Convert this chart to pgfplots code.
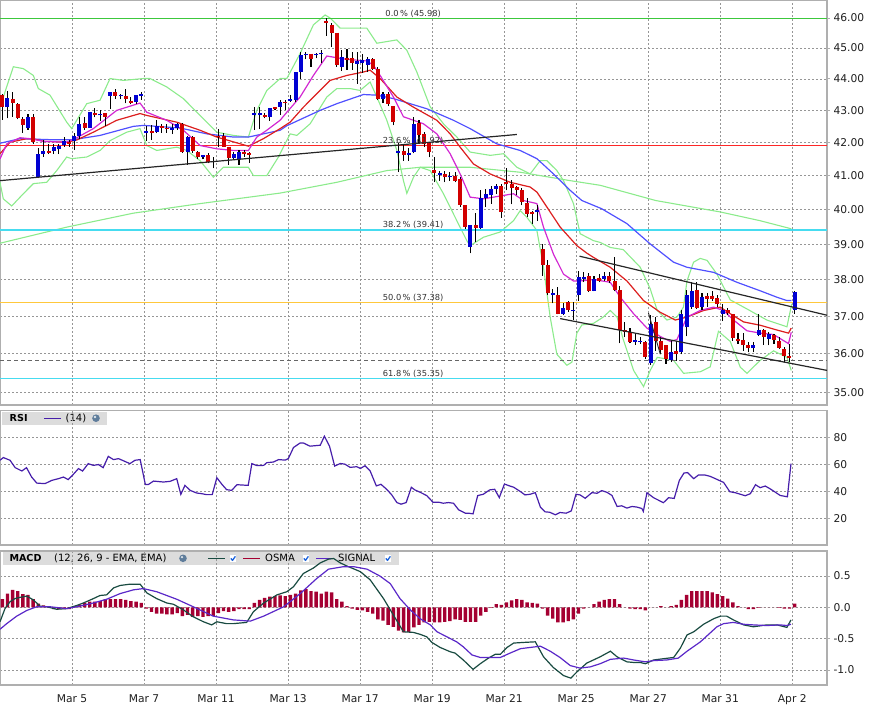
\documentclass[border=0pt]{standalone}
\usepackage{fontspec}
\setmainfont{DejaVu Sans}
\usepackage{pgfplots}
\usepackage{pgfplotstable}
\pgfplotsset{compat=1.18}

\definecolor{framegray}{RGB}{175,175,175}
\definecolor{gridgray}{RGB}{150,150,150}
\definecolor{labelgray}{RGB}{30,30,30}
\definecolor{fibtext}{RGB}{50,50,50}
\definecolor{bandgreen}{RGB}{140,235,140}
\definecolor{mablue}{RGB}{80,80,255}
\definecolor{mared}{RGB}{220,30,30}
\definecolor{mamag}{RGB}{210,40,210}
\definecolor{fibgreen}{RGB}{60,200,60}
\definecolor{fibred}{RGB}{255,40,40}
\definecolor{fibcyan}{RGB}{70,220,240}
\definecolor{fiborange}{RGB}{255,200,60}
\definecolor{cblue}{RGB}{0,0,210}
\definecolor{cred}{RGB}{210,0,0}
\definecolor{rsicol}{RGB}{70,30,170}
\definecolor{macdcol}{RGB}{25,75,65}
\definecolor{sigcol}{RGB}{90,40,200}
\definecolor{osmacol}{RGB}{165,0,50}
\definecolor{legendgray}{RGB}{220,220,220}
\definecolor{checkblue}{RGB}{30,100,220}
\definecolor{globecol}{RGB}{95,125,155}

% candle data: index, open, high, low, close
\pgfplotstableread{
i O H L C
0 43.49 43.52 42.71 43.10
1 43.10 43.62 42.75 43.38
2 43.36 43.59 42.80 43.22
3 43.20 43.22 42.72 42.75
4 42.72 42.80 42.31 42.54
5 42.45 42.88 42.39 42.78
6 42.80 42.88 41.96 42.03
7 40.97 41.84 40.92 41.65
8 41.65 42.08 41.57 41.75
9 41.75 41.96 41.65 41.69
10 41.75 41.96 41.65 41.85
11 41.79 41.96 41.65 41.91
12 41.92 42.18 41.88 42.05
13 42.03 42.08 41.88 41.96
14 42.06 42.29 41.78 42.20
15 42.20 42.78 42.10 42.58
16 42.60 42.78 42.39 42.46
17 42.46 42.94 42.46 42.94
18 42.91 43.06 42.78 42.85
19 42.84 43.01 42.68 42.89
20 42.91 42.93 42.52 42.78
21 43.46 43.57 43.04 43.57
22 43.57 43.67 43.36 43.46
23 43.44 43.52 43.35 43.49
24 43.46 43.67 43.22 43.36
25 43.30 43.42 43.19 43.24
26 43.27 43.49 43.20 43.49
27 43.46 43.57 43.33 43.52
28 42.31 42.50 42.06 42.37
29 42.36 42.54 42.08 42.31
30 42.32 42.70 42.29 42.52
31 42.52 42.58 42.31 42.46
32 42.46 42.58 42.31 42.41
33 42.39 42.58 42.26 42.46
34 42.45 42.62 42.39 42.58
35 42.58 42.62 41.69 41.72
36 41.72 42.20 41.32 42.16
37 42.16 42.20 41.69 41.75
38 41.72 41.75 41.49 41.55
39 41.57 41.62 41.49 41.62
40 41.62 41.67 41.37 41.42
41 41.40 41.57 41.22 41.44
42 42.20 42.41 41.88 42.16
43 42.20 42.29 41.88 41.88
44 41.88 41.88 41.32 41.52
45 41.52 41.72 41.47 41.65
46 41.49 41.77 41.32 41.72
47 41.72 41.77 41.57 41.65
48 41.67 41.72 41.39 41.62
49 42.85 43.10 42.39 42.93
50 42.85 43.10 42.41 42.93
51 42.85 42.91 42.75 42.80
52 42.78 43.06 42.68 43.06
53 43.10 43.10 43.01 43.03
54 43.10 43.33 42.85 43.27
55 43.27 43.33 43.01 43.22
56 43.31 43.49 43.27 43.36
57 43.33 44.23 43.27 44.23
58 44.23 44.88 44.01 44.77
59 44.77 44.88 44.63 44.82
60 44.82 44.82 44.39 44.65
61 44.77 44.85 44.66 44.82
62 44.80 44.93 44.50 44.85
63 45.91 45.99 45.40 45.84
64 45.77 45.82 45.04 45.51
65 45.51 45.51 44.39 44.44
66 44.39 44.93 44.26 44.70
67 44.68 44.97 44.29 44.61
68 44.66 44.88 44.29 44.50
69 44.48 44.88 43.85 44.59
70 44.50 44.80 44.20 44.61
71 44.44 44.72 44.22 44.64
72 44.63 44.66 44.29 44.33
73 44.33 44.39 43.32 43.37
74 43.37 43.58 43.23 43.53
75 43.53 43.58 43.13 43.21
76 43.13 43.13 42.53 42.63
77 41.68 41.98 41.10 41.74
78 41.74 41.96 41.45 41.61
79 41.63 41.82 41.45 41.68
80 41.71 42.79 41.67 42.58
81 42.62 42.69 41.97 42.22
82 42.27 42.32 41.86 41.96
83 42.01 42.01 41.55 41.71
84 41.17 41.55 40.80 41.07
85 41.02 41.15 40.85 41.07
86 41.04 41.13 40.80 40.95
87 40.95 41.10 40.85 41.00
88 41.00 41.10 40.80 40.85
89 40.90 40.95 40.07 40.12
90 40.12 40.12 39.44 39.49
91 38.93 39.54 38.74 39.54
92 39.54 39.90 39.05 39.47
93 39.47 40.56 39.44 40.34
94 40.34 40.61 40.07 40.44
95 40.41 40.68 40.17 40.61
96 40.61 40.74 40.46 40.68
97 40.68 40.74 39.76 39.92
98 40.80 41.23 40.56 40.76
99 40.74 40.87 40.15 40.64
100 40.66 40.68 40.41 40.56
101 40.56 40.64 40.12 40.21
102 40.19 40.34 39.80 39.88
103 39.94 39.97 39.59 39.88
104 39.92 40.12 39.66 39.99
105 38.86 39.01 38.11 38.42
106 38.42 38.54 37.59 37.63
107 37.59 37.75 37.35 37.63
108 37.57 37.79 37.05 37.07
109 37.07 37.36 37.03 37.22
110 37.39 37.43 37.12 37.16
111 37.14 37.39 36.89 37.18
112 37.57 38.24 37.43 38.08
113 38.02 38.21 37.93 38.08
114 38.11 38.18 37.66 37.70
115 37.70 38.11 37.68 38.02
116 38.05 38.16 37.93 37.97
117 38.02 38.21 37.97 38.11
118 38.11 38.21 37.90 37.97
119 37.97 38.63 37.68 37.72
120 37.72 37.84 36.28 36.62
121 36.62 36.85 36.44 36.58
122 36.58 36.68 36.28 36.31
123 36.32 36.53 36.24 36.37
124 36.31 36.44 36.26 36.35
125 36.31 36.35 35.86 35.91
126 35.75 37.03 35.72 36.78
127 36.85 36.98 36.08 36.35
128 36.35 36.44 35.99 36.10
129 36.22 36.24 35.74 35.86
130 35.84 36.35 35.78 36.06
131 36.08 36.35 35.82 36.01
132 36.04 37.16 35.99 37.07
133 36.71 37.72 36.46 37.57
134 37.25 37.95 37.20 37.70
135 37.72 37.93 37.20 37.23
136 37.25 37.64 37.16 37.52
137 37.54 37.63 37.25 37.48
138 37.56 37.70 37.43 37.48
139 37.50 37.59 37.25 37.34
140 37.05 37.34 36.87 37.18
141 37.16 37.23 37.03 37.09
142 37.05 37.07 36.35 36.41
143 36.40 36.55 36.26 36.33
144 36.37 36.55 36.08 36.22
145 36.23 36.31 36.04 36.15
146 36.15 36.31 36.04 36.23
147 36.51 37.07 36.46 36.62
148 36.62 36.67 36.24 36.44
149 36.40 36.59 36.22 36.53
150 36.51 36.53 36.26 36.37
151 36.35 36.44 36.13 36.14
152 36.13 36.17 35.78 35.95
153 35.93 36.26 35.78 35.89
154 37.18 37.68 37.07 37.66
}\ohlc

% OSMA histogram
\pgfplotstableread{
i v
0 0.13
1 0.22
2 0.28
3 0.26
4 0.21
5 0.20
6 0.13
7 0.06
8 0.03
9 -0.01
10 -0.03
11 -0.03
12 -0.03
13 -0.03
14 0.02
15 0.04
16 0.07
17 0.09
18 0.09
19 0.10
20 0.13
21 0.13
22 0.13
23 0.13
24 0.12
25 0.10
26 0.09
27 0.07
28 -0.02
29 -0.07
30 -0.10
31 -0.10
32 -0.11
33 -0.11
34 -0.09
35 -0.14
36 -0.12
37 -0.15
38 -0.14
39 -0.15
40 -0.14
41 -0.14
42 -0.09
43 -0.06
44 -0.07
45 -0.06
46 -0.03
47 -0.03
48 -0.03
49 0.07
50 0.12
51 0.15
52 0.17
53 0.18
54 0.19
55 0.18
56 0.20
57 0.22
58 0.27
59 0.29
60 0.26
61 0.25
62 0.22
63 0.25
64 0.24
65 0.13
66 0.09
67 0.02
68 -0.02
69 -0.04
70 -0.05
71 -0.07
72 -0.10
73 -0.19
74 -0.21
75 -0.28
76 -0.31
77 -0.37
78 -0.40
79 -0.39
80 -0.32
81 -0.28
82 -0.24
83 -0.23
84 -0.24
85 -0.24
86 -0.23
87 -0.22
88 -0.19
89 -0.20
90 -0.23
91 -0.23
92 -0.23
93 -0.13
94 -0.07
95 -0.01
96 0.05
97 0.04
98 0.08
99 0.11
100 0.13
101 0.12
102 0.08
103 0.07
104 0.06
105 -0.02
106 -0.13
107 -0.18
108 -0.24
109 -0.24
110 -0.22
111 -0.19
112 -0.10
113 -0.02
114 0.00
115 0.05
116 0.09
117 0.12
118 0.13
119 0.13
120 0.05
121 0.00
122 -0.02
123 -0.03
124 -0.03
125 -0.05
126 0.00
127 0.00
128 0.02
129 0.00
130 0.02
131 0.04
132 0.12
133 0.20
134 0.26
135 0.26
136 0.26
137 0.26
138 0.24
139 0.21
140 0.18
141 0.14
142 0.08
143 0.02
144 0.00
145 -0.03
146 -0.03
147 -0.01
148 0.00
149 0.00
150 0.00
151 -0.01
152 -0.02
153 -0.02
154 0.06
}\osma

% build candle segment lists from the OHLC table
\def\wicklist{}\def\uplist{}\def\downlist{}
\pgfplotstablegetrowsof{\ohlc}
\pgfmathtruncatemacro\lastrow{\pgfplotsretval-1}
\foreach \rr in {0,...,\lastrow}{%
  \pgfplotstablegetelem{\rr}{i}\of\ohlc\let\ci\pgfplotsretval
  \pgfplotstablegetelem{\rr}{O}\of\ohlc\let\co\pgfplotsretval
  \pgfplotstablegetelem{\rr}{H}\of\ohlc\let\cH\pgfplotsretval
  \pgfplotstablegetelem{\rr}{L}\of\ohlc\let\cL\pgfplotsretval
  \pgfplotstablegetelem{\rr}{C}\of\ohlc\let\cc\pgfplotsretval
  \xdef\wicklist{\wicklist (\ci,\cL) (\ci,\cH) (\ci,nan)}%
  \pgfmathtruncatemacro\isup{\cc>\co}%
  \ifnum\isup=1
    \xdef\uplist{\uplist (\ci,\co) (\ci,\cc) (\ci,nan)}%
  \else
    \xdef\downlist{\downlist (\ci,\co) (\ci,\cc) (\ci,nan)}%
  \fi
}

\pgfplotsset{
  panel/.style={
    scale only axis, width=827pt, anchor=north west,
    xmin=-0.45, xmax=160.3,
    xtick={13.55,27.55,41.55,55.55,69.55,83.55,97.55,111.55,125.55,139.55,153.55},
    grid=major,
    grid style={draw=gridgray, dash pattern=on 2pt off 2pt, line width=0.6pt},
    axis line style={draw=framegray, line width=1.2pt},
    ytick pos=right, yticklabel pos=right,
    tick align=outside, major tick length=3pt,
    tick style={draw=framegray, line width=0.8pt},
    xtick style={draw=none},
    ticklabel style={font=\fontsize{10.7}{12}\selectfont, text=labelgray},
    clip=true, unbounded coords=jump,
  },
  candlewick/.style={draw=black, line width=1.1pt, line cap=butt},
  candleup/.style={draw=cblue, line width=4pt, line cap=butt},
  candledown/.style={draw=cred, line width=4pt, line cap=butt},
  fibline/.style={line width=1.2pt},
}
\tikzset{
  fiblabel/.style={anchor=base, yshift=2.2pt, inner sep=0pt, text=fibtext, font=\fontsize{8.3}{9}\selectfont},
  chk/.pic={
    \fill[white] (-3.2pt,-3.2pt) rectangle (3.2pt,3.2pt);
    \draw[checkblue, line width=1.3pt, line cap=round, line join=round] (-2pt,0pt) -- (-0.5pt,-1.8pt) -- (2.2pt,2pt);
  },
}

\begin{document}
\begin{tikzpicture}
\useasboundingbox (0pt,0pt) rectangle (872pt,-710pt);

% ---------------- panel legends (under the plots) ----------------
\fill[legendgray] (1.7pt,-411.7pt) rectangle (107pt,-424.7pt);
\node[anchor=west, inner sep=0pt, font=\bfseries\fontsize{9.6}{11}\selectfont] at (9.5pt,-418.2pt) {RSI};
\draw[rsicol, line width=1.3pt] (44pt,-418.2pt) -- (61pt,-418.2pt);
\node[anchor=west, inner sep=0pt, font=\fontsize{10}{11}\selectfont] at (65.5pt,-418.2pt) {(14)};
\fill[globecol] (96pt,-418.2pt) circle (3.8pt);
\fill[white!80!globecol] (95pt,-417pt) circle (1.3pt);

\fill[legendgray] (2.7pt,-552pt) rectangle (399pt,-564.7pt);
\node[anchor=west, inner sep=0pt, font=\bfseries\fontsize{9.6}{11}\selectfont] at (9.3pt,-558.3pt) {MACD};
\node[anchor=west, inner sep=0pt, font=\fontsize{10}{11}\selectfont] at (54pt,-558.3pt) {(12, 26, 9 - EMA, EMA)};
\fill[globecol] (183pt,-558.3pt) circle (3.8pt);
\fill[white!80!globecol] (182pt,-557.1pt) circle (1.3pt);
\draw[macdcol, line width=1.3pt] (208pt,-558.3pt) -- (225pt,-558.3pt);
\pic at (233pt,-558.6pt) {chk};
\draw[osmacol, line width=1.3pt] (243pt,-558.3pt) -- (260pt,-558.3pt);
\node[anchor=west, inner sep=0pt, font=\fontsize{10}{11}\selectfont] at (265pt,-558.3pt) {OSMA};
\pic at (306pt,-558.6pt) {chk};
\draw[sigcol, line width=1.3pt] (316pt,-558.3pt) -- (333pt,-558.3pt);
\node[anchor=west, inner sep=0pt, font=\fontsize{10}{11}\selectfont] at (338pt,-558.3pt) {SIGNAL};
\pic at (388pt,-558.6pt) {chk};

% ---------------- price panel ----------------
\begin{axis}[panel, at={(0pt,0pt)}, height=405pt,
  ymode=log, ymin=34.68, ymax=46.61,
  ytick={35,36,37,38,39,40,41,42,43,44,45,46},
  yticklabels={35.00,36.00,37.00,38.00,39.00,40.00,41.00,42.00,43.00,44.00,45.00,46.00},
  xticklabels={}]

% long-term average
\addplot[bandgreen, line width=1.1pt] coordinates {(-0.45,39.03) (12.52,39.49) (25.47,39.90) (38.44,40.17) (54.00,40.48) (65.02,40.80) (74.74,41.15) (81.22,41.25) (90.93,41.25) (100.66,41.10) (110.38,40.85) (116.22,40.71) (127.0,40.26) (139.55,39.93) (147.32,39.68) (153.35,39.44)};

% Bollinger upper
\addplot[bandgreen, line width=1.1pt] coordinates {(-0.45,43.10) (2.14,44.39) (4.08,44.33) (6.03,44.11) (7.00,43.69) (9.27,43.48) (12.52,42.63) (13.49,42.43) (14.47,42.69) (16.41,43.21) (19.00,43.32) (20.94,44.01) (23.53,43.95) (27.42,44.01) (28.72,44.01) (31.97,43.74) (35.19,43.37) (38.44,42.84) (41.69,42.32) (44.92,42.22) (47.83,42.17) (49.47,43.00) (51.41,43.63) (54.00,44.01) (55.30,44.01) (57.88,44.82) (60.47,45.77) (62.74,46.10) (63.71,46.00) (65.66,45.66) (70.85,45.66) (72.80,45.16) (76.69,45.27) (78.63,44.93) (80.57,44.22) (83.16,43.11) (85.75,42.58) (88.35,42.17) (90.93,41.71) (94.83,41.61) (97.42,41.66) (100.02,41.25) (102.60,41.05) (104.55,41.45) (105.85,41.45) (107.79,41.15) (109.08,40.85) (111.02,40.17) (112.32,39.30) (114.91,39.10) (116.22,39.05) (118.16,38.91) (120.7,38.85) (124.0,38.35) (125.94,37.75) (127.3,37.16) (129.2,36.90) (131.13,36.98) (132.4,37.25) (133.08,37.97) (134.36,38.49) (135.66,38.60) (137.0,38.54) (138.91,38.16) (141.49,37.45) (144.74,37.20) (148.6,36.90) (152.51,36.72) (153.45,37.34)};

% Bollinger lower
\addplot[bandgreen, line width=1.1pt] coordinates {(-0.45,40.80) (0.19,40.31) (1.83,40.10) (4.08,40.46) (6.03,40.76) (8.63,40.80) (10.58,41.15) (12.52,41.56) (13.49,41.51) (16.41,41.56) (19.00,41.76) (20.94,42.06) (24.19,42.32) (26.77,42.43) (28.08,41.91) (30.02,41.76) (33.91,41.86) (35.85,41.76) (38.44,41.45) (41.03,40.95) (42.97,41.25) (47.83,41.25) (48.80,41.00) (51.41,41.00) (53.67,41.56) (55.94,42.27) (57.24,42.22) (59.83,42.58) (63.07,43.42) (65.02,43.69) (67.61,43.69) (69.55,43.63) (71.49,43.90) (72.80,43.42) (74.74,42.69) (76.69,41.76) (77.97,40.85) (78.63,40.47) (79.92,40.95) (81.22,41.25) (83.16,41.15) (85.75,40.46) (88.35,39.68) (90.29,39.10) (90.93,38.96) (93.53,39.20) (96.77,39.35) (99.36,39.68) (100.66,39.97) (101.96,39.78) (103.91,39.39) (105.19,38.35) (106.49,36.98) (107.79,35.99) (109.74,35.70) (110.71,35.78) (111.68,36.55) (112.65,36.77) (114.91,36.81) (116.8,36.98) (118.16,37.16) (119.5,36.98) (120.7,36.38) (122.7,35.57) (124.64,35.15) (125.94,35.57) (127.3,35.91) (130.47,35.83) (132.43,35.49) (135.66,35.53) (137.6,35.66) (139.2,36.60) (141.49,36.33) (143.44,35.65) (144.74,35.49) (147.32,35.83) (149.91,36.08) (152.51,35.91) (153.35,35.57)};

% Fibonacci levels
\addplot[fibline, fibgreen] coordinates {(-0.45,45.98) (160.3,45.98)};
\addplot[fibline, fibred] coordinates {(-0.45,41.92) (160.3,41.92)};
\addplot[fibline, fibcyan] coordinates {(-0.45,39.41) (160.3,39.41)};
\addplot[fibline, fiborange] coordinates {(-0.45,37.38) (160.3,37.38)};
\addplot[fibline, fibcyan] coordinates {(-0.45,35.35) (160.3,35.35)};
\addplot[draw=black!60, line width=1pt, dash pattern=on 4pt off 3pt] coordinates {(-0.45,35.83) (160.3,35.83)};

% moving averages
\addplot[mablue, line width=1.2pt] coordinates {(-0.45,41.98) (3.44,42.12) (9.27,42.09) (13.81,42.09) (19.00,42.22) (25.47,42.50) (27.42,42.53) (34.55,42.45) (39.74,42.27) (44.92,42.17) (47.83,42.17) (54.00,42.38) (55.30,42.52) (61.77,43.00) (65.02,43.21) (70.19,43.50) (72.80,43.48) (76.03,43.37) (82.52,43.05) (87.69,42.69) (90.93,42.43) (96.13,41.96) (100.66,41.76) (103.91,41.51) (107.13,41.05) (110.38,40.56) (112.65,40.26) (116.5,40.02) (121.41,39.59) (125.94,39.01) (130.47,38.49) (133.08,38.35) (138.25,38.21) (142.79,37.93) (147.32,37.70) (150.57,37.52) (152.51,37.43) (153.35,37.43)};
\addplot[mared, line width=1.2pt] coordinates {(-0.45,41.66) (1.50,42.01) (4.74,42.12) (6.03,42.12) (7.97,42.04) (12.52,42.01) (14.47,42.08) (17.69,42.32) (22.24,42.69) (26.77,42.90) (28.08,42.84) (33.91,42.63) (38.44,42.38) (41.69,42.17) (47.83,41.89) (50.75,42.12) (54.00,42.43) (55.94,42.63) (58.53,43.10) (61.77,43.63) (63.71,43.95) (66.96,44.11) (70.19,44.22) (71.49,44.28) (73.44,44.01) (76.69,43.42) (79.92,43.10) (84.46,42.69) (87.05,42.27) (88.99,41.86) (91.58,41.35) (94.83,41.05) (98.72,40.80) (102.60,40.66) (103.91,40.51) (105.85,40.07) (108.44,39.49) (111.68,38.96) (113.62,38.75) (114.91,38.63) (118.16,38.35) (121.41,37.97) (124.64,37.43) (127.88,37.11) (130.8,36.90) (133.08,36.98) (136.31,37.16) (139.55,37.25) (141.49,37.07) (144.08,36.85) (147.32,36.76) (150.57,36.63) (152.82,36.55) (153.35,36.68)};
\addplot[mamag, line width=1.2pt] coordinates {(-0.45,41.50) (0.86,41.96) (3.44,42.15) (5.39,42.12) (7.97,42.04) (12.52,42.01) (14.47,42.15) (17.69,42.43) (22.24,43.00) (26.77,43.23) (28.08,42.94) (31.97,42.69) (35.19,42.38) (38.44,41.91) (41.69,41.81) (44.92,41.76) (47.83,41.76) (49.47,42.17) (51.41,42.38) (54.00,42.69) (55.30,42.94) (57.88,43.42) (60.47,44.11) (63.07,44.74) (66.96,44.63) (70.85,44.58) (72.14,44.44) (73.44,44.11) (76.03,43.42) (77.97,42.80) (81.86,42.58) (84.46,42.27) (87.05,41.66) (88.99,41.05) (90.93,40.36) (93.53,40.31) (97.42,40.41) (99.36,40.46) (101.30,40.26) (103.91,40.17) (105.19,39.49) (107.13,38.72) (109.08,38.16) (111.02,37.97) (112.32,37.97) (114.91,38.01) (118.16,37.93) (120.11,37.52) (122.70,37.07) (125.30,36.68) (127.88,36.46) (129.83,36.33) (131.13,36.38) (133.08,36.98) (135.66,37.16) (138.25,37.25) (140.19,37.16) (142.13,36.90) (144.74,36.61) (147.32,36.55) (149.91,36.51) (152.82,36.27) (153.35,36.57)};

% candles
\edef\tmp{\noexpand\addplot[candlewick] coordinates {\wicklist};}\tmp
\edef\tmp{\noexpand\addplot[candleup] coordinates {\uplist};}\tmp
\edef\tmp{\noexpand\addplot[candledown] coordinates {\downlist};}\tmp

% trend lines
\addplot[black!85, line width=1.2pt] coordinates {(-0.45,40.85) (100.02,42.25)};
\addplot[black!85, line width=1.2pt] coordinates {(112.2,38.66) (160.3,37.03)};
\addplot[black!85, line width=1.2pt] coordinates {(108.44,36.94) (160.3,35.57)};
\addplot[black!85, line width=0.9pt] coordinates {(125.6,37.09) (127.9,35.99)};

% Fibonacci labels
\node[fiblabel] at (axis cs:79.86,45.98) {0.0\,\% (45.98)};
\node[fiblabel] at (axis cs:79.86,41.92) {23.6\,\% (41.92)};
\node[fiblabel] at (axis cs:79.86,39.41) {38.2\,\% (39.41)};
\node[fiblabel] at (axis cs:79.86,37.38) {50.0\,\% (37.38)};
\node[fiblabel] at (axis cs:79.86,35.35) {61.8\,\% (35.35)};
\end{axis}

% ---------------- RSI panel ----------------
\begin{axis}[panel, at={(0pt,-410.7pt)}, height=134.3pt,
  ymin=0, ymax=100, ytick={20,40,60,80}, yticklabels={20,40,60,80},
  xticklabels={}]
\addplot[rsicol, line width=1.2pt] coordinates {(-0.45,63.1) (0.2,65.1) (1.5,63.1) (2.5,57.6) (3.8,55.1) (4.7,57.6) (5.7,50.6) (6.7,46.1) (8.3,45.7) (9.6,48.1) (10.9,49.4) (11.9,50.6) (12.8,48.7) (13.8,52.6) (14.8,56.9) (15.6,55.1) (16.7,60.6) (17.7,59.3) (18.7,59.9) (19.6,57.6) (20.6,66.0) (21.6,63.6) (22.6,64.3) (24.8,60.6) (25.8,63.1) (26.8,63.6) (27.8,45.1) (28.4,45.1) (29.4,47.6) (31.3,46.9) (32.6,47.4) (33.9,49.4) (34.7,37.7) (35.5,44.4) (36.5,40.7) (37.8,38.7) (38.8,38.2) (39.7,37.5) (40.8,37.5) (41.7,50.1) (42.7,45.1) (43.6,41.2) (44.6,40.7) (45.6,44.9) (47.8,44.4) (48.5,60.6) (49.5,59.1) (50.8,59.3) (51.4,61.3) (52.7,61.8) (53.7,63.6) (55.0,63.2) (55.6,64.4) (56.6,72.6) (57.9,76.0) (58.5,76.0) (59.8,73.6) (61.8,74.3) (62.6,81.0) (63.6,73.6) (64.6,58.8) (65.7,60.7) (66.6,60.2) (67.6,57.8) (68.9,58.3) (69.6,57.0) (70.5,59.0) (71.5,55.1) (72.7,44.0) (73.6,45.2) (74.7,41.5) (75.7,37.3) (76.7,31.6) (77.5,30.4) (78.5,31.6) (79.5,43.0) (80.2,41.0) (81.2,39.3) (82.5,36.8) (83.7,31.9) (84.8,31.9) (85.7,31.1) (86.7,31.6) (87.7,31.1) (88.7,26.2) (90.0,23.7) (90.6,23.7) (91.5,23.2) (92.4,36.8) (93.5,37.8) (94.7,41.0) (95.7,41.5) (96.6,35.3) (97.6,45.4) (98.6,44.0) (99.4,43.0) (100.7,39.8) (101.6,37.3) (102.6,37.8) (103.6,39.0) (104.6,28.1) (105.5,24.7) (106.4,24.4) (107.5,22.5) (108.4,24.2) (109.6,23.7) (110.6,25.4) (111.5,37.8) (112.3,37.3) (113.3,34.8) (114.6,39.0) (115.6,38.5) (116.5,40.5) (117.5,39.3) (118.5,36.9) (119.5,28.7) (120.4,29.2) (121.4,27.5) (122.4,28.7) (123.4,28.2) (124.3,27.2) (124.6,25.0) (125.3,38.9) (126.6,35.2) (128.5,31.5) (129.5,35.2) (130.6,34.7) (131.6,48.1) (132.5,53.6) (133.2,53.9) (134.4,49.4) (135.3,52.1) (136.6,52.1) (137.6,51.1) (138.6,49.4) (140.2,46.6) (141.4,39.7) (142.5,38.9) (144.4,36.7) (145.4,38.2) (146.4,44.9) (147.3,42.7) (148.3,43.9) (149.3,41.7) (151.2,36.9) (152.6,35.9) (153.3,60.6)};
\end{axis}

% ---------------- MACD panel ----------------
\begin{axis}[panel, at={(0pt,-551pt)}, height=134pt,
  ymin=-1.24, ymax=0.90, ytick={-1,-0.5,0,0.5}, yticklabels={-1.0,-0.5,0.0,0.5},
  xticklabels={Mar 5,Mar 7,Mar 11,Mar 13,Mar 17,Mar 19,Mar 21,Mar 25,Mar 27,Mar 31,Apr 2},
  xticklabel style={yshift=-3pt}]
\addplot[ybar, bar width=3.4pt, fill=osmacol, draw=none] table[x=i, y=v] {\osma};
\addplot[macdcol, line width=1.2pt] coordinates {(-0.45,-0.23) (0.52,-0.02) (1.5,0.09) (2.47,0.14) (3.44,0.16) (4.74,0.18) (6.03,0.12) (7.33,0.02) (8.63,0.01) (10.57,-0.03) (12.5,-0.02) (14.46,0.03) (15.76,0.07) (17.7,0.14) (19.0,0.19) (20.3,0.20) (21.6,0.31) (22.9,0.35) (24.8,0.37) (26.8,0.37) (28.1,0.23) (30.0,0.14) (31.96,0.07) (33.25,0.05) (35.2,-0.04) (37.1,-0.15) (39.1,-0.23) (40.7,-0.28) (41.7,-0.23) (43.6,-0.26) (44.9,-0.26) (47.5,-0.24) (48.8,-0.07) (50.8,0.07) (53.4,0.20) (55.3,0.25) (56.6,0.33) (58.5,0.54) (60.5,0.63) (61.8,0.71) (63.4,0.77) (64.4,0.78) (65.7,0.71) (67.0,0.66) (69.6,0.57) (71.5,0.44) (74.1,0.14) (76.0,-0.12) (77.97,-0.39) (79.9,-0.40) (81.2,-0.43) (82.5,-0.47) (83.5,-0.56) (85.1,-0.64) (87.1,-0.71) (88.0,-0.73) (89.6,-0.84) (91.5,-0.99) (92.9,-0.90) (94.5,-0.81) (95.8,-0.75) (96.8,-0.75) (98.1,-0.64) (99.4,-0.57) (101.3,-0.56) (103.6,-0.55) (105.2,-0.79) (107.1,-0.96) (109.1,-1.09) (110.5,-1.13) (111.7,-1.03) (113.6,-0.89) (116.2,-0.79) (118.2,-0.70) (119.5,-0.79) (121.4,-0.87) (122.7,-0.88) (124.0,-0.88) (125.0,-0.90) (126.6,-0.84) (128.5,-0.82) (130.5,-0.80) (131.8,-0.65) (133.1,-0.44) (134.4,-0.39) (136.3,-0.27) (138.3,-0.18) (139.6,-0.14) (140.8,-0.14) (142.1,-0.20) (144.1,-0.28) (146.0,-0.31) (148.6,-0.28) (150.6,-0.28) (152.5,-0.32) (153.3,-0.20)};
\addplot[sigcol, line width=1.2pt] coordinates {(-0.45,-0.35) (0.85,-0.26) (2.8,-0.14) (4.74,-0.05) (6.68,0.01) (9.27,0.01) (12.5,-0.02) (15.1,0.02) (17.7,0.07) (20.3,0.13) (22.9,0.22) (25.5,0.28) (27.4,0.30) (30.0,0.25) (33.9,0.13) (37.1,0.01) (41.0,-0.14) (44.9,-0.20) (48.2,-0.22) (50.8,-0.14) (54.7,0.01) (57.9,0.22) (61.1,0.46) (63.4,0.61) (66.3,0.65) (68.3,0.65) (70.9,0.61) (73.4,0.50) (75.4,0.38) (77.3,0.14) (79.3,-0.04) (81.2,-0.18) (83.2,-0.28) (84.5,-0.39) (86.4,-0.47) (88.3,-0.55) (89.6,-0.63) (91.3,-0.76) (92.9,-0.80) (94.8,-0.80) (96.8,-0.80) (98.7,-0.73) (100.7,-0.66) (102.6,-0.64) (104.6,-0.62) (106.5,-0.70) (108.4,-0.80) (110.4,-0.93) (112.3,-0.97) (114.3,-0.95) (116.2,-0.90) (118.2,-0.83) (120.8,-0.81) (122.7,-0.84) (125.0,-0.87) (126.6,-0.85) (129.2,-0.84) (131.4,-0.81) (133.1,-0.70) (135.7,-0.55) (138.9,-0.31) (140.2,-0.26) (142.1,-0.24) (144.1,-0.27) (146.0,-0.28) (148.6,-0.29) (151.2,-0.28) (152.5,-0.29) (153.3,-0.27)};
\end{axis}
\end{tikzpicture}
\end{document}
